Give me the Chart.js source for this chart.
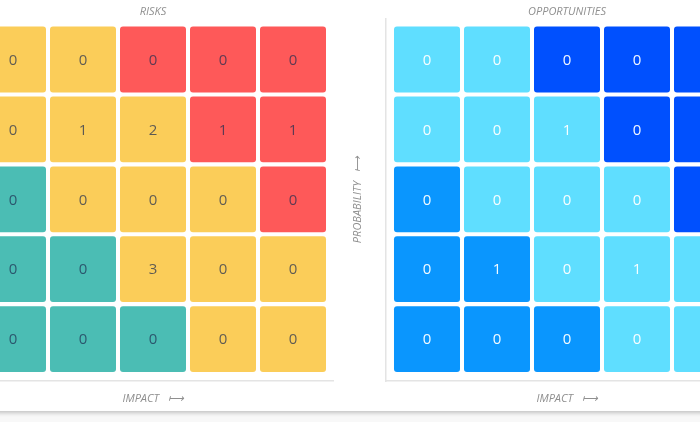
<!DOCTYPE html>
<html>
<head>
<meta charset="utf-8">
<script src="https://cdn.jsdelivr.net/npm/chart.js@4.4.0/dist/chart.umd.min.js"></script>
<style>
  html, body { margin: 0; padding: 0; width: 700px; height: 422px; overflow: hidden; background: #f8f8f8; }
  #card { position: absolute; left: -10px; top: -10px; width: 720px; height: 421px; background: #fff;
          box-shadow: 0 2px 4px rgba(0,0,0,0.22); }
  .box { position: absolute; top: 0; width: 408px; height: 410px; }
  #riskBox { left: -74px; }
  #oppBox { left: 340px; }
</style>
</head>
<body>
<div id="card"></div>
<div class="box" id="riskBox"><canvas id="riskChart"></canvas></div>
<div class="box" id="oppBox"><canvas id="oppChart"></canvas></div>
<script>
// impact runs left to right, probability rows listed top to bottom
const impactLevels = [1, 2, 3, 4, 5];
const probabilityLevels = [5, 4, 3, 2, 1];

const riskCounts = [
  [0, 0, 0, 0, 0],
  [0, 1, 2, 1, 1],
  [0, 0, 0, 0, 0],
  [0, 0, 3, 0, 0],
  [0, 0, 0, 0, 0]
];

const oppCounts = [
  [0, 0, 0, 0, 0],
  [0, 0, 1, 0, 0],
  [0, 0, 0, 0, 0],
  [0, 1, 0, 1, 0],
  [0, 0, 0, 0, 0]
];

// zone of each cell (same layout on both matrices)
const zoneGrid = [
  ['mid', 'mid', 'high', 'high', 'high'],
  ['mid', 'mid', 'mid', 'high', 'high'],
  ['low', 'mid', 'mid', 'mid', 'high'],
  ['low', 'low', 'mid', 'mid', 'mid'],
  ['low', 'low', 'low', 'mid', 'mid']
];

const riskPalette = { low: '#4bbdb4', mid: '#fbcd59', high: '#fe5959' };
const oppPalette = { low: '#0a96fe', mid: '#5fdeff', high: '#0050fe' };

Chart.defaults.font.family = "'Open Sans', sans-serif";

const HALF = 0.471;     // half of a cell in axis units (leaves a small gap)
const PAD = 6 / 70;     // space between outer cells and axis line

const cellLabels = {
  id: 'cellLabels',
  afterDatasetsDraw(chart, args, opts) {
    const ctx = chart.ctx;
    const ds = chart.data.datasets[0];
    chart.getDatasetMeta(0).data.forEach((bar, i) => {
      const p = bar.getProps(['x', 'y', 'base'], true);
      ctx.save();
      ctx.font = "15px 'Open Sans'";
      ctx.fillStyle = opts.color;
      ctx.textAlign = 'center';
      ctx.textBaseline = 'middle';
      ctx.fillText(String(ds.counts[i]), p.x, (p.y + p.base) / 2 + 1);
      ctx.restore();
    });
  }
};

function buildMatrix(canvasId, title, counts, palette, textColor) {
  const cells = [], colors = [], values = [];
  probabilityLevels.forEach((prob, r) => {
    impactLevels.forEach((imp, c) => {
      cells.push({ x: imp, y: [prob - HALF, prob + HALF] });
      colors.push(palette[zoneGrid[r][c]]);
      values.push(counts[r][c]);
    });
  });

  const axisTitle = { size: 11, style: 'italic' };

  new Chart(document.getElementById(canvasId), {
    type: 'bar',
    data: {
      datasets: [{
        data: cells,
        counts: values,
        backgroundColor: colors,
        borderRadius: 3,
        borderSkipped: false,
        barPercentage: 0.943,
        categoryPercentage: 1
      }]
    },
    options: {
      responsive: true,
      maintainAspectRatio: false,
      animation: false,
      layout: { padding: 0 },
      scales: {
        x: {
          type: 'linear',
          offset: false,
          min: 0.5 - PAD,
          max: 5.5 + PAD,
          ticks: { display: false },
          grid: { display: false, drawTicks: false },
          border: { display: true, color: '#e4e4e4', width: 1.5 },
          title: { display: true, text: 'IMPACT \u00a0 \u27fc', color: '#8f8f8f', font: axisTitle,
                   padding: { top: 11.4, bottom: 4.4 } }
        },
        y: {
          type: 'linear',
          min: 0.4,
          max: 5.5 + PAD,
          ticks: { display: false },
          grid: { display: false, drawTicks: false },
          border: { display: true, color: '#e4e4e4', width: 1.5 },
          title: { display: true, text: 'PROBABILITY \u00a0 \u27fc', color: '#8f8f8f', font: axisTitle,
                   padding: { top: 11.4, bottom: 21.4 } }
        }
      },
      plugins: {
        legend: { display: false },
        tooltip: { enabled: false },
        title: { display: true, text: title, fullSize: false, color: '#8f8f8f',
                 font: { size: 11, style: 'italic', weight: 'normal' }, padding: { top: 5.4, bottom: 0 } },
        cellLabels: { color: textColor }
      }
    },
    plugins: [cellLabels]
  });
}

buildMatrix('riskChart', 'RISKS', riskCounts, riskPalette, 'rgba(30,45,80,0.72)');
buildMatrix('oppChart', 'OPPORTUNITIES', oppCounts, oppPalette, 'rgba(255,255,255,0.95)');
</script>
</body>
</html>
